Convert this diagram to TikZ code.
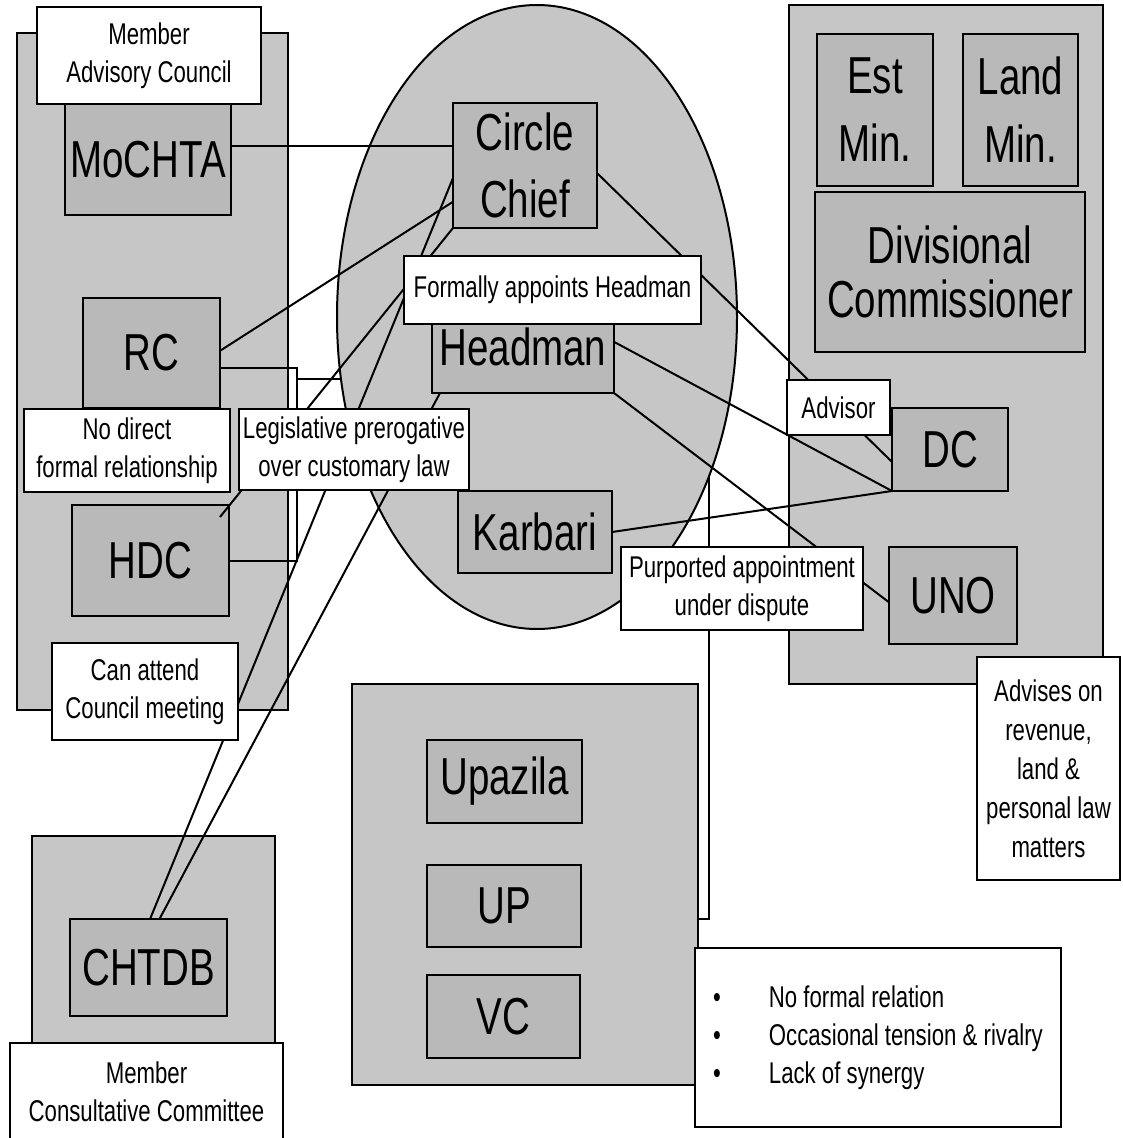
\documentclass[tikz,border=0pt]{standalone}
\usepackage{fontspec}
\setmainfont[FakeStretch=0.74]{Liberation Sans}
\usetikzlibrary{shapes.geometric,calc}
\begin{document}
\begin{tikzpicture}[x=1pt,y=-1pt,
  every node/.style={inner sep=0pt, outer sep=0pt},
  rect/.style n args={4}{rectangle, minimum width={(#3)-(#1)}, minimum height={(#4)-(#2)},
     at={({(#1+#3)/2},{(#2+#4)/2})}},
  grp/.style={draw, line width=2pt, fill=gray!45},
  unit/.style={draw, line width=2pt, fill=gray!55, align=center, font=\fontsize{52}{66}\selectfont},
  note/.style={draw, line width=2pt, fill=white, align=center, font=\fontsize{30}{38}\selectfont},
  link/.style={line width=2pt},
]
\useasboundingbox (0,0) rectangle (1122,1138);
\fill[white] (0,0) rectangle (1122,1138);

% group boxes
\node[grp, rect={17}{33}{288}{710}] (lg) {};
\node[grp, rect={789}{5}{1103}{684}] (rg) {};
\node[grp, rect={352}{684}{698}{1085}] (ug) {};
\node[grp, rect={32}{836}{275}{1070}] (cg) {};
\node[draw, line width=2pt, fill=gray!45, ellipse, minimum width=400pt, minimum height=624pt] (ell) at (537,317) {};

% units
\node[unit, rect={65}{104}{231}{215}] (moch) {MoCHTA};
\node[unit, rect={83}{298}{220}{408}] (rc) {RC};
\node[unit, rect={72}{505}{229}{616}] (hdc) {HDC};
\node[unit, rect={453}{103}{597}{228}, font=\fontsize{52}{67}\selectfont] (cc) {Circle\\Chief};
\node[unit, rect={432}{300}{614}{393}] (hm) {Headman};
\node[unit, rect={458}{491}{612}{573}] (kb) {Karbari};
\node[unit, rect={817}{34}{933}{186}, font=\fontsize{52}{68}\selectfont] (est) {Est\\Min.};
\node[unit, rect={963}{34}{1078}{186}, font=\fontsize{52}{68}\selectfont] (land) {Land\\Min.};
\node[unit, rect={815}{192}{1085}{352}, font=\fontsize{52}{54}\selectfont] (div) {Divisional\\Commissioner};
\node[unit, rect={892}{408}{1008}{491}] (dc) {DC};
\node[unit, rect={889}{547}{1017}{644}] (uno) {UNO};
\node[unit, rect={427}{740}{582}{823}] (upz) {Upazila};
\node[unit, rect={427}{865}{581}{947}] (up) {UP};
\node[unit, rect={427}{975}{580}{1058}] (vc) {VC};
\node[unit, rect={70}{919}{227}{1016}] (chtdb) {CHTDB};

% attachment points
\coordinate (ccA) at ($(cc.north west)!0.34!(cc.south west)$);
\coordinate (ccR) at ($(cc.north west)!0.79!(cc.south west)$);
\coordinate (ccB) at ($(cc.north west)!0.6!(cc.south west)$);
\coordinate (ccC) at ($(cc.north east)!0.56!(cc.south east)$);
\coordinate (rcA) at ($(rc.north east)!0.48!(rc.south east)$);
\coordinate (rcB) at ($(rc.north east)!0.64!(rc.south east)$);
\coordinate (hdcA) at ($(hdc.north east)+(-9,12)$);
\coordinate (chA) at ($(chtdb.north west)!0.51!(chtdb.north east)$);
\coordinate (chB) at ($(chtdb.north west)!0.57!(chtdb.north east)$);
\coordinate (hmB) at ($(hm.south west)+(8,0)$);
\coordinate (hmA) at ($(hm.north east)!0.45!(hm.south east)$);
\coordinate (dcA) at ($(dc.north west)!0.65!(dc.south west)$);
\coordinate (unoA) at ($(uno.north west)!0.57!(uno.south west)$);
\coordinate (ugA) at ($(ug.north east)!0.586!(ug.south east)$);
\coordinate (brk) at (297,379);

% connectors
\draw[link] (moch.east |- ccA) -- (ccA);
\draw[link] (rcA) -- (ccR);
\draw[link] (ccB) -- (chA);
\draw[link] (cc.south west) -- (hdcA);
\draw[link] (chB) -- (hmB);
\draw[link] (rcB) -| (brk) |- (hdc.east);
\draw[link] (brk) -- (brk -| ell.198);
\draw[link] (ccC) -- (dcA);
\draw[link] (hmA) -- (dc.south west);
\draw[link] (hm.south east) -- (unoA);
\draw[link] (kb.east) -- (dc.south west);
\draw[link] (ell.317) -- (ell.317 |- ugA) -- (ugA);

% notes
\node[note, rect={37}{7}{261}{104}] (mac) {Member\\Advisory Council};
\node[note, rect={24}{409}{230}{492}] (ndr) {No direct\\formal relationship};
\node[note, rect={239}{409}{469}{490}] (leg) {Legislative prerogative\\over customary law};
\node[note, rect={52}{643}{238}{740}] (can) {Can attend\\Council meeting};
\node[note, rect={404}{256}{701}{324}] (fah) {Formally appoints Headman};
\node[note, rect={787}{380}{890}{435}] (adv) {Advisor};
\node[note, rect={621}{547}{863}{630}] (pur) {Purported appointment\\under dispute};
\node[note, rect={977}{657}{1120}{880}, font=\fontsize{30}{39}\selectfont] (ados) {Advises on\\revenue,\\land \&\\personal law\\matters};
\node[note, rect={695}{948}{1061}{1127}] (bul) {\begin{tabular}{@{}l@{\hspace{48pt}}l@{}}%
• & No formal relation\\
• & Occasional tension \& rivalry\\
• & Lack of synergy
\end{tabular}};
\node[note, rect={10}{1043}{283}{1141}] (mcc) {Member\\Consultative Committee};
\end{tikzpicture}
\end{document}
